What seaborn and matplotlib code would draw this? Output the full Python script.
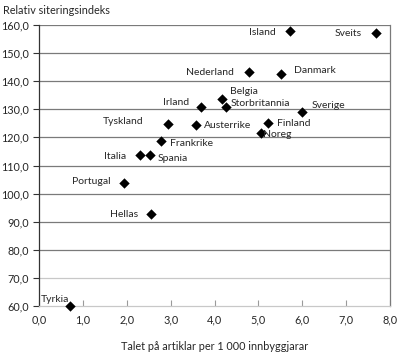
import seaborn as sns
import matplotlib.pyplot as plt
import pandas as pd

# data
countries = ['Tyrkia', 'Portugal', 'Hellas', 'Italia', 'Spania', 'Frankrike', 'Tyskland',
             'Austerrike', 'Irland', 'Belgia', 'Storbritannia', 'Nederland', 'Danmark',
             'Island', 'Sveits', 'Sverige', 'Finland', 'Noreg']
articles = [0.70, 1.94, 2.56, 2.31, 2.52, 2.79, 2.93, 3.57, 3.70, 4.17, 4.27, 4.79, 5.51,
            5.72, 7.68, 6.00, 5.21, 5.06]
citation = [60.1, 103.9, 92.6, 113.6, 113.6, 118.6, 124.9, 124.3, 130.7, 133.6, 130.7,
            143.2, 142.6, 158.0, 157.0, 129.2, 125.0, 121.7]

df = pd.DataFrame({'country': countries, 'x': articles, 'y': citation})

sns.set_style('white')
plt.rcParams['font.family'] = ['Lato', 'DejaVu Sans']

fig = plt.figure(figsize=(4, 3.55), dpi=100)
ax = fig.add_axes([0.0975, 0.138, 0.8775, 0.7916])

# grid lines
for v in range(70, 170, 10):
    ax.axhline(v, color='#c8c8c8' if v == 70 else '#7a7a7a', lw=0.9, zorder=0)

sns.scatterplot(x='x', y='y', data=df, marker='D', color='black', s=28,
                edgecolor='black', linewidth=0, ax=ax, zorder=3, clip_on=False)

# label placement (pixel offsets, alignment)
place = {
    'Tyrkia': (-1, 6, 'right'), 'Portugal': (-13, 1, 'right'), 'Hellas': (-13, 0, 'right'),
    'Italia': (-14, -1, 'right'), 'Spania': (8, -3, 'left'), 'Frankrike': (9, -2, 'left'),
    'Tyskland': (-24, 2, 'right'), 'Austerrike': (8, 0, 'left'), 'Irland': (-12, 5, 'right'),
    'Belgia': (8, 8, 'left'), 'Storbritannia': (4, 4, 'left'), 'Nederland': (-15, 0, 'right'),
    'Danmark': (13, 3, 'left'), 'Island': (-14, -2, 'right'), 'Sveits': (-14, 0, 'right'),
    'Sverige': (9, 6, 'left'), 'Finland': (9, 0, 'left'), 'Noreg': (2, -2, 'left'),
}
for c, x, y in zip(countries, articles, citation):
    dx, dy, ha = place[c]
    ax.annotate(c, (x, y), xytext=(dx, dy), textcoords='offset pixels',
                ha=ha, va='center', fontsize=7.5)

ax.set_xlim(0, 8)
ax.set_ylim(60, 160)
ax.set_xticks(range(0, 9))
ax.set_yticks(range(60, 170, 10))
ax.set_xticklabels([f'{v:.1f}'.replace('.', ',') for v in range(0, 9)], fontsize=7.8)
ax.set_yticklabels([f'{v:.1f}'.replace('.', ',') for v in range(60, 170, 10)], fontsize=7.8)
ax.tick_params(axis='x', direction='in', length=4, color='#9a9a9a', pad=6)
ax.tick_params(axis='y', direction='out', length=4, color='#333333', pad=3, left=True)
ax.tick_params(axis='x', bottom=True)

ax.spines['top'].set_visible(False)
ax.spines['left'].set_color('#333333')
ax.spines['right'].set_color('#7a7a7a')
ax.spines['bottom'].set_color('#c8c8c8')
for s in ax.spines.values():
    s.set_linewidth(0.9)

ax.set_xlabel('Talet på artiklar per 1 000 innbyggjarar', fontsize=7.8, labelpad=11)
ax.set_ylabel('')
fig.text(0.0075, 0.97, 'Relativ siteringsindeks', fontsize=7.8, va='center', ha='left')

plt.savefig('out.png', dpi=100)
